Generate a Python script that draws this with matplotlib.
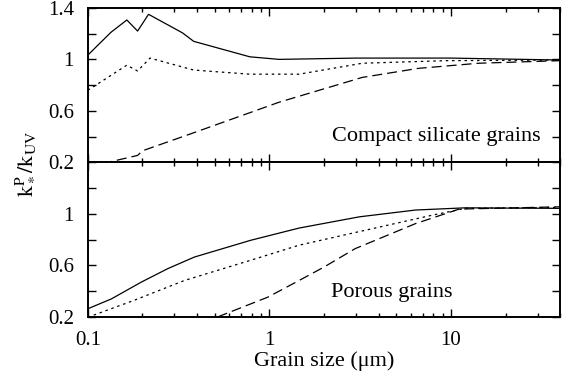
#!/usr/bin/env python3
"""Planck-mean to UV absorption ratio vs grain size, compact and porous grains."""
import matplotlib
matplotlib.use("Agg")
import matplotlib.pyplot as plt
from matplotlib.ticker import FixedLocator, FixedFormatter, LogLocator, NullFormatter

plt.rcParams["font.family"] = ["Liberation Serif", "DejaVu Serif"]
plt.rcParams["mathtext.fontset"] = "stix"

# compact silicate grains (top panel)
compact_solid_x = [0.1, 0.134, 0.164, 0.188, 0.216, 0.333, 0.383, 0.78, 1.13, 3.0, 10.0, 40.0]
compact_solid_y = [1.033, 1.21, 1.306, 1.22, 1.35, 1.205, 1.14, 1.02, 1.0, 1.01, 1.01, 0.995]
compact_dot_x = [0.1, 0.164, 0.188, 0.22, 0.383, 0.78, 1.46, 3.25, 9.4, 40.0]
compact_dot_y = [0.76, 0.955, 0.91, 1.01, 0.917, 0.885, 0.885, 0.97, 0.99, 0.995]
compact_dash_x = [0.12, 0.188, 0.2, 0.383, 1.13, 3.25, 6.6, 14.2, 40.0]
compact_dash_y = [0.19, 0.254, 0.29, 0.43, 0.667, 0.86, 0.93, 0.97, 0.99]

# porous grains (bottom panel)
porous_solid_x = [0.1, 0.135, 0.197, 0.276, 0.387, 0.79, 1.46, 3.13, 6.4, 12.0, 20.0, 40.0]
porous_solid_y = [0.263, 0.34, 0.47, 0.575, 0.665, 0.795, 0.89, 0.977, 1.03, 1.047, 1.045, 1.043]
porous_dot_x = [0.1, 0.181, 0.341, 0.79, 1.46, 3.38, 7.9, 12.0, 40.0]
porous_dot_y = [0.197, 0.33, 0.483, 0.64, 0.757, 0.873, 0.99, 1.043, 1.05]
porous_dash_x = [0.52, 0.98, 1.46, 2.0, 2.97, 6.4, 11.1, 40.0]
porous_dash_y = [0.2, 0.353, 0.483, 0.587, 0.73, 0.925, 1.037, 1.055]

y_ticks = [0.2, 0.4, 0.6, 0.8, 1.0, 1.2, 1.4]
y_labels = ["0.2", "", "0.6", "", "1", "", "1.4"]
x_ticks = [0.1, 1, 10]
x_labels = ["0.1", "1", "10"]

fig, (top, bottom) = plt.subplots(2, 1, figsize=(5.63, 3.75), dpi=100, sharex=True)
fig.subplots_adjust(left=0.156, right=0.995, top=0.979, bottom=0.155, hspace=0)

dot = (0, (2, 3))
dash = (0, (8, 4))
for axis, sets, label, lx, ly in [
    (top, [(compact_solid_x, compact_solid_y, "-"), (compact_dot_x, compact_dot_y, dot),
           (compact_dash_x, compact_dash_y, dash)], "Compact silicate grains", 0.958, 0.17),
    (bottom, [(porous_solid_x, porous_solid_y, "-"), (porous_dot_x, porous_dot_y, dot),
              (porous_dash_x, porous_dash_y, dash)], "Porous grains", 0.771, 0.155),
]:
    for xs, ys, style in sets:
        axis.plot(xs, ys, color="black", linewidth=0.9, linestyle=style)
    axis.set_xscale("log")
    axis.set_xlim(0.1, 40)
    axis.set_ylim(0.2, 1.4)
    axis.yaxis.set_major_locator(FixedLocator(y_ticks))
    axis.yaxis.set_major_formatter(FixedFormatter(y_labels))
    axis.xaxis.set_major_locator(FixedLocator(x_ticks))
    axis.xaxis.set_major_formatter(FixedFormatter(x_labels))
    axis.xaxis.set_minor_locator(LogLocator(base=10, subs=range(2, 10)))
    axis.xaxis.set_minor_formatter(NullFormatter())
    axis.tick_params(which="both", direction="in", top=True, right=True, labelsize=15, width=1)
    axis.tick_params(which="major", length=6, pad=10)
    axis.tick_params(which="minor", length=3)
    for spine in axis.spines.values():
        spine.set_linewidth(1.4)
    axis.text(lx, ly, label, transform=axis.transAxes, ha="right", va="center", fontsize=16)

bottom.set_yticklabels(["0.2", "", "0.6", "", "1", "", ""])
bottom.set_xlabel("Grain size (\u03bcm)", fontsize=16, labelpad=1)
fig.text(0.044, 0.563, r"$\mathrm{k_*^P/k_{UV}}$", rotation=90, ha="center", va="center", fontsize=16)

fig.savefig("out.png", dpi=100)
